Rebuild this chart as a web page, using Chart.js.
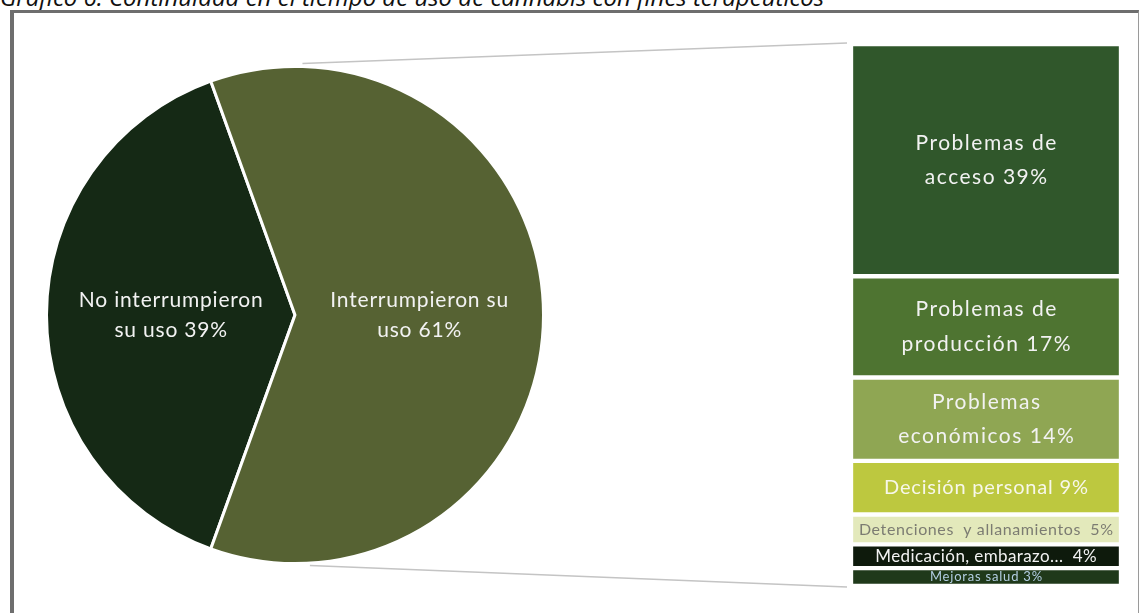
<!DOCTYPE html>
<html lang="es">
<head>
<meta charset="utf-8">
<title>Continuidad en el tiempo de uso de cannabis con fines terapéuticos</title>
<script src="https://cdn.jsdelivr.net/npm/chart.js@4/dist/chart.umd.min.js"></script>
<style>
  html, body { margin: 0; padding: 0; background: #fff; overflow: hidden; }
  body { width: 1140px; height: 613px; position: relative; font-family: "Open Sans", sans-serif; }
  #title {
    position: absolute; left: 0; top: -15px; white-space: nowrap;
    font-style: italic; font-size: 24px; line-height: 24px; color: #111;
  }
  #frame {
    position: absolute; left: 10px; top: 10px; width: 1124px; height: 640px;
    border-left: 4px solid #6e6e6e; border-top: 3px solid #6e6e6e; border-right: 1px solid #9a9a9a;
  }
  #links { position: absolute; left: 0; top: 0; z-index: 2; pointer-events: none; }
  #pieBox { position: absolute; left: 45px; top: 65px; width: 500px; height: 500px; }
  #barBox { position: absolute; left: 851px; top: 44px; width: 270px; height: 542px; }
</style>
</head>
<body>
<div id="title">Gráfico 6. Continuidad en el tiempo de uso de cannabis con fines terapéuticos</div>
<div id="frame"></div>
<canvas id="links" width="1140" height="613"></canvas>
<div id="pieBox"><canvas id="pieChart"></canvas></div>
<div id="barBox"><canvas id="barChart"></canvas></div>

<script>
// pie: did people stop using it or not
const pieLabels = [['No interrumpieron', 'su uso 39%'], ['Interrumpieron su', 'uso 61%']];
const pieValues = [39, 61];
const pieColors = ['#152915', '#566233'];

// stacked bar: reasons for stopping
const reasonLabels = [
  ['Problemas de', 'acceso 39%'],
  ['Problemas de', 'producción 17%'],
  ['Problemas', 'económicos 14%'],
  ['Decisión personal 9%'],
  ['Detenciones  y allanamientos  5%'],
  ['Medicación, embarazo...  4%'],
  ['Mejoras salud 3%']
];
const reasonValues = [39, 17, 14, 9, 5, 4, 3];
const reasonColors = ['#30572b', '#4e7431', '#8fa653', '#bdc83f', '#e3e9bb', '#0e1a0c', '#1f391a'];

// label styling for the bar segments
const reasonTextColors = ['#f2f2f2', '#f2f2f2', '#f2f2f2', '#f7f7ea', '#7c7c72', '#f2f2f2', '#b3cde2'];
const reasonFontSizes = [21, 21, 21, 20, 16, 17, 13];
const reasonSpacing = [1.5, 1.5, 1.5, 0.8, 0.6, 0.4, 0.8];

Chart.defaults.font.family = 'Lato, "Open Sans", sans-serif';
Chart.defaults.animation = false;

// writes centred multi-line labels onto each arc / bar segment
function labelPlugin(texts, colors, sizes, spacing, lineGap) {
  return {
    id: 'segmentLabels',
    afterDatasetsDraw(chart) {
      const ctx = chart.ctx;
      chart.data.datasets.forEach((ds, di) => {
        chart.getDatasetMeta(di).data.forEach((el, i) => {
          const k = chart.config.type === 'bar' ? di : i;
          const lines = texts[k];
          const size = sizes[k];
          const p = el.getCenterPoint();
          ctx.save();
          ctx.fillStyle = colors[k];
          ctx.font = size + 'px ' + Chart.defaults.font.family;
          ctx.letterSpacing = spacing[k] + 'px';
          ctx.textAlign = 'center';
          ctx.textBaseline = 'middle';
          const step = size * lineGap;
          const y0 = p.y - (lines.length - 1) * step / 2;
          lines.forEach((t, j) => ctx.fillText(t, p.x + spacing[k] / 2, y0 + j * step));
          ctx.restore();
        });
      });
    }
  };
}

const pieChart = new Chart(document.getElementById('pieChart'), {
  type: 'pie',
  data: {
    labels: pieLabels.map(l => l.join(' ')),
    datasets: [{
      data: pieValues,
      backgroundColor: pieColors,
      borderColor: '#ffffff',
      borderWidth: 3
    }]
  },
  options: {
    responsive: true,
    maintainAspectRatio: false,
    // centre the dark slice on the left side
    rotation: 270 - pieValues[0] / (pieValues[0] + pieValues[1]) * 180,
    layout: { padding: 0 },
    plugins: { legend: { display: false }, tooltip: { enabled: false } }
  },
  plugins: [labelPlugin(pieLabels, ['#f2f2f2', '#f2f2f2'], [21, 21], [0.8, 0.8], 1.42)]
});

const barChart = new Chart(document.getElementById('barChart'), {
  type: 'bar',
  data: {
    labels: [''],
    datasets: reasonValues.map((v, i) => ({
      label: reasonLabels[i].join(' '),
      data: [v],
      backgroundColor: reasonColors[i],
      borderColor: '#ffffff',
      borderWidth: 2.5,
      borderSkipped: false,
      categoryPercentage: 1,
      barPercentage: 1
    }))
  },
  options: {
    responsive: true,
    maintainAspectRatio: false,
    layout: { padding: 0 },
    scales: {
      x: { stacked: true, display: false },
      y: {
        stacked: true, display: false, reverse: true,
        min: 0, max: reasonValues.reduce((a, b) => a + b, 0)
      }
    },
    plugins: { legend: { display: false }, tooltip: { enabled: false } }
  },
  plugins: [labelPlugin(reasonLabels, reasonTextColors, reasonFontSizes, reasonSpacing, 1.65)]
});

// grey leader lines from the top and bottom of the pie to the bar corners
function drawLinks() {
  const c = document.getElementById('links');
  const ctx = c.getContext('2d');
  const pieRect = pieChart.canvas.getBoundingClientRect();
  const barRect = barChart.canvas.getBoundingClientRect();
  const arc = pieChart.getDatasetMeta(0).data[1];
  const cx = pieRect.left + arc.x;
  const cy = pieRect.top + arc.y;
  const r = arc.outerRadius;
  const first = barChart.getDatasetMeta(0).data[0];
  const last = barChart.getDatasetMeta(reasonValues.length - 1).data[0];
  const bx = barRect.left + first.x - first.width / 2;
  const topY = barRect.top + Math.min(first.base, first.y) - 1;
  const botY = barRect.top + Math.max(last.base, last.y) + 1;

  ctx.strokeStyle = '#c4c4c4';
  ctx.lineWidth = 1.6;
  ctx.beginPath();
  ctx.moveTo(cx + 0.03 * r, cy - r - 3);
  ctx.lineTo(bx - 4, topY);
  ctx.moveTo(cx + 0.06 * r, cy + r + 2);
  ctx.lineTo(bx - 4, botY);
  ctx.stroke();
}
drawLinks();
</script>
</body>
</html>
